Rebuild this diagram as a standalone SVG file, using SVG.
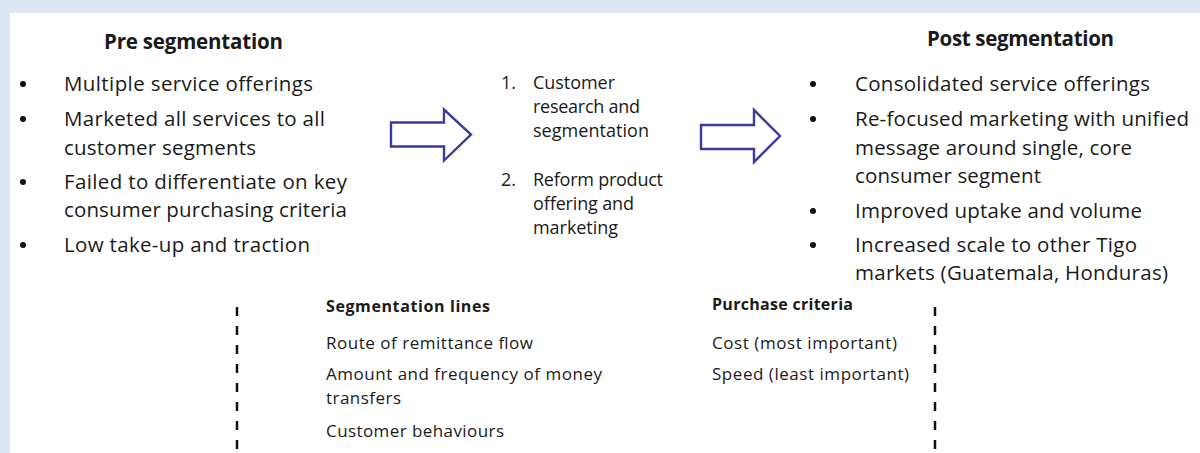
<svg xmlns="http://www.w3.org/2000/svg" width="1200" height="453" viewBox="0 0 1200 453">
<style>
text{font-family:"Open Sans","Liberation Sans",sans-serif;fill:#1a1a1a}
.h{font-size:20.5px;font-weight:bold}
.b{font-size:20.5px}
.m{font-size:18px}
.s{font-size:17px}
.sh{font-size:16px;font-weight:bold}
.arrow{fill:#fff;stroke:#3b3b9b;stroke-width:2.4}
.dash{stroke:#111;stroke-width:2.5;stroke-dasharray:9 10;fill:none}
.dot{fill:#111}
</style>
<rect x="0" y="0" width="1200" height="453" fill="#dce6f2"/>
<rect x="10" y="13" width="1190" height="440" fill="#fff"/>

<g id="pre">
<text class="h" x="104" y="49" textLength="179">Pre segmentation</text>
<circle class="dot" cx="23" cy="84" r="3"/>
<circle class="dot" cx="23" cy="119" r="3"/>
<circle class="dot" cx="23" cy="182" r="3"/>
<circle class="dot" cx="23" cy="245" r="3"/>
<text class="b" x="64" y="91" textLength="249">Multiple service offerings</text>
<text class="b" x="64" y="126" textLength="261">Marketed all services to all</text>
<text class="b" x="64" y="155" textLength="192">customer segments</text>
<text class="b" x="64" y="189" textLength="283">Failed to differentiate on key</text>
<text class="b" x="64" y="217" textLength="283">consumer purchasing criteria</text>
<text class="b" x="64" y="251.5" textLength="246">Low take-up and traction</text>
</g>

<g id="steps">
<text class="m" x="501" y="89">1.</text>
<text class="m" x="533" y="89" textLength="82">Customer</text>
<text class="m" x="533" y="113" textLength="107">research and</text>
<text class="m" x="533" y="137" textLength="116">segmentation</text>
<text class="m" x="501" y="186">2.</text>
<text class="m" x="533" y="186" textLength="130">Reform product</text>
<text class="m" x="533" y="210" textLength="101">offering and</text>
<text class="m" x="533" y="234" textLength="85">marketing</text>
</g>

<g id="post">
<text class="h" x="927" y="46" textLength="187">Post segmentation</text>
<circle class="dot" cx="813" cy="84" r="3"/>
<circle class="dot" cx="813" cy="119" r="3"/>
<circle class="dot" cx="813" cy="211" r="3"/>
<circle class="dot" cx="813" cy="245" r="3"/>
<text class="b" x="855" y="90.5" textLength="295">Consolidated service offerings</text>
<text class="b" x="855" y="126" textLength="334">Re-focused marketing with unified</text>
<text class="b" x="855" y="155" textLength="277">message around single, core</text>
<text class="b" x="855" y="183" textLength="186">consumer segment</text>
<text class="b" x="855" y="218" textLength="287">Improved uptake and volume</text>
<text class="b" x="855" y="251.5" textLength="282">Increased scale to other Tigo</text>
<text class="b" x="855" y="280" textLength="313">markets (Guatemala, Honduras)</text>
</g>

<g id="segmentation-lines">
<text class="sh" x="326" y="311.5" textLength="164">Segmentation lines</text>
<text class="s" x="326" y="349" textLength="207">Route of remittance flow</text>
<text class="s" x="326" y="380" textLength="276">Amount and frequency of money</text>
<text class="s" x="326" y="404" textLength="75">transfers</text>
<text class="s" x="326" y="436.5" textLength="178">Customer behaviours</text>
</g>

<g id="purchase-criteria">
<text class="sh" x="712" y="309.5" textLength="141">Purchase criteria</text>
<text class="s" x="712" y="349" textLength="185">Cost (most important)</text>
<text class="s" x="712" y="380" textLength="197">Speed (least important)</text>
</g>

<g id="connectors">
<path class="arrow" d="M391,122.5 H444 V109.5 L471,134.5 L444,160.5 V146.5 H391 Z"/>
<path class="arrow" d="M701,125 H754 V110 L780,136 L754,162 V149 H701 Z"/>
<line class="dash" x1="237" y1="307" x2="237" y2="453"/>
<line class="dash" x1="935" y1="307" x2="935" y2="453"/>
</g>
</svg>
